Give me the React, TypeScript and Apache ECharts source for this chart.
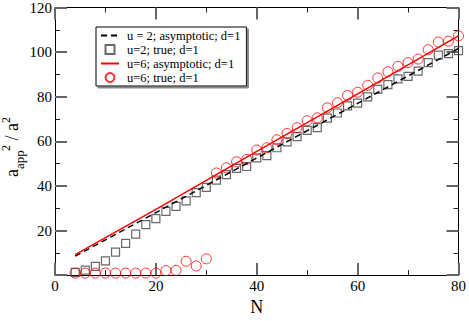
import React, { useEffect, useRef } from 'react';
import * as echarts from 'echarts';

const FONT = '"Liberation Serif", "Times New Roman", "DejaVu Serif", serif';

const nValues = [4, 6, 8, 10, 12, 14, 16, 18, 20, 22, 24, 26, 28, 30, 32, 34, 36, 38, 40, 42, 44, 46, 48, 50, 52, 54, 56, 58, 60, 62, 64, 66, 68, 70, 72, 74, 76, 78, 80];
const u2True = [1.2, 2.2, 3.9, 6.4, 10.3, 14.2, 18.4, 22.6, 25.3, 28.6, 30.8, 33.3, 37.0, 39.3, 42.6, 45.1, 47.9, 48.7, 52.6, 53.6, 57.1, 59.7, 62.1, 64.9, 66.1, 70.4, 72.7, 75.9, 77.1, 79.9, 83.3, 85.4, 88.0, 89.1, 91.5, 95.3, 98.6, 99.3, 100.7];
const u6True = [0.9, 0.9, 0.9, 0.9, 0.9, 0.9, 0.9, 0.9, 0.9, 2.0, 2.1, 6.2, 4.1, 7.3, 45.8, 48.1, 50.8, 51.9, 56.1, 57.1, 60.7, 63.5, 66.1, 69.2, 70.5, 75.0, 77.3, 80.6, 82.0, 85.1, 88.4, 91.2, 93.6, 95.3, 96.9, 101.1, 104.5, 104.9, 107.3];
const asymN = [4, 20, 40, 60, 80];
const u2Asym = [8.5, 28.0, 52.5, 77.0, 101.6];
const u6Asym = [9.2, 29.5, 55.5, 81.3, 107.3];

const seriesNames = ['u = 2; asymptotic; d=1', 'u=2; true; d=1', 'u=6; asymptotic; d=1', 'u=6; true; d=1'];

const zip = (xs: number[], ys: number[]) => xs.map((x, i) => [x, ys[i]]);

export default function App() {
  const ref = useRef<HTMLDivElement>(null);
  useEffect(() => {
    if (!ref.current) return;
    const chart = echarts.init(ref.current, null, { renderer: 'svg' });
    const majorTick = { show: true, inside: true, length: 12, lineStyle: { color: '#666', width: 2 } };
    const minorTick = { show: true, splitNumber: 2, length: 5, lineStyle: { color: '#222', width: 1 } };
    const axisLine = { show: true, onZero: false, lineStyle: { color: '#000', width: 1 } };
    const xBase = { type: 'value', min: 0, max: 80, interval: 20, axisLine, axisTick: majorTick, minorTick, splitLine: { show: false } };
    const yBase = { type: 'value', min: 0, max: 120, interval: 20, axisLine, axisTick: majorTick, minorTick, splitLine: { show: false } };
    const hideSymbol = { color: 'transparent', borderColor: 'transparent', borderWidth: 0 };
    chart.setOption({
      animation: false,
      backgroundColor: '#fff',
      grid: { left: 55, right: 10, top: 6, bottom: 32, containLabel: false },
      xAxis: [
        {
          ...xBase,
          position: 'bottom',
          axisLabel: { fontFamily: FONT, fontSize: 15, color: '#000', margin: 3 },
          name: 'N',
          nameLocation: 'middle',
          nameGap: 15,
          nameTextStyle: { fontFamily: FONT, fontSize: 18, color: '#000' },
        },
        { ...xBase, position: 'top', axisLabel: { show: false } },
      ],
      yAxis: [
        {
          ...yBase,
          position: 'left',
          axisLabel: { fontFamily: FONT, fontSize: 15, color: '#000', margin: 3, showMinLabel: false },
        },
        { ...yBase, position: 'right', axisLabel: { show: false } },
      ],
      legend: {
        left: 96,
        top: 27,
        orient: 'vertical',
        itemWidth: 18,
        itemHeight: 9,
        itemGap: 1,
        padding: [2, 6, 2, 4],
        backgroundColor: '#fff',
        borderColor: '#000',
        borderWidth: 1,
        shadowColor: '#888',
        shadowOffsetX: 2,
        shadowOffsetY: 2,
        shadowBlur: 0,
        selectedMode: false,
        symbolKeepAspect: true,
        textStyle: { fontFamily: FONT, fontSize: 12.5, color: '#000', padding: [0, 0, 0, 3] },
        data: [
          { name: seriesNames[0], itemStyle: hideSymbol },
          { name: seriesNames[1], icon: 'path://M0,0L10,0L10,10L0,10Z' },
          { name: seriesNames[2], itemStyle: hideSymbol },
          { name: seriesNames[3], icon: 'circle' },
        ],
      },
      graphic: [
        {
          type: 'group',
          x: 0,
          y: 177,
          rotation: Math.PI / 2,
          children: [
            { type: 'text', x: 0, y: 11.5, style: { text: 'a', font: `18px ${FONT}`, fill: '#000', textAlign: 'left', textVerticalAlign: 'middle' } },
            { type: 'text', x: 8, y: 19.2, style: { text: 'app', font: `13px ${FONT}`, fill: '#000', textAlign: 'left', textVerticalAlign: 'middle' } },
            { type: 'text', x: 26, y: 5.8, style: { text: '2', font: `12px ${FONT}`, fill: '#000', textAlign: 'left', textVerticalAlign: 'middle' } },
            { type: 'text', x: 32, y: 11.5, style: { text: ' / a', font: `18px ${FONT}`, fill: '#000', textAlign: 'left', textVerticalAlign: 'middle' } },
            { type: 'text', x: 54, y: 5.8, style: { text: '2', font: `12px ${FONT}`, fill: '#000', textAlign: 'left', textVerticalAlign: 'middle' } },
          ],
        },
      ],
      series: [
        {
          name: seriesNames[0],
          type: 'line',
          data: zip(asymN, u2Asym),
          symbol: 'none',
          lineStyle: { color: '#000', width: 1.5, type: [6, 4] },
          itemStyle: { color: '#000' },
          z: 3,
        },
        {
          name: seriesNames[1],
          type: 'scatter',
          data: zip(nValues, u2True),
          symbol: 'rect',
          symbolSize: 8,
          itemStyle: { color: 'transparent', borderColor: '#444', borderWidth: 1.2 },
          z: 2,
        },
        {
          name: seriesNames[2],
          type: 'line',
          data: zip(asymN, u6Asym),
          symbol: 'none',
          lineStyle: { color: '#ff0000', width: 1.5 },
          itemStyle: { color: '#ff0000' },
          z: 4,
        },
        {
          name: seriesNames[3],
          type: 'scatter',
          data: zip(nValues, u6True),
          symbol: 'circle',
          symbolSize: 10,
          itemStyle: { color: 'transparent', borderColor: '#ff0000', borderWidth: 1 },
          z: 2,
        },
      ],
    });
    return () => chart.dispose();
  }, []);
  return <div ref={ref} style={{ width: 469, height: 321, position: 'absolute', left: 0, top: 0 }} />;
}
